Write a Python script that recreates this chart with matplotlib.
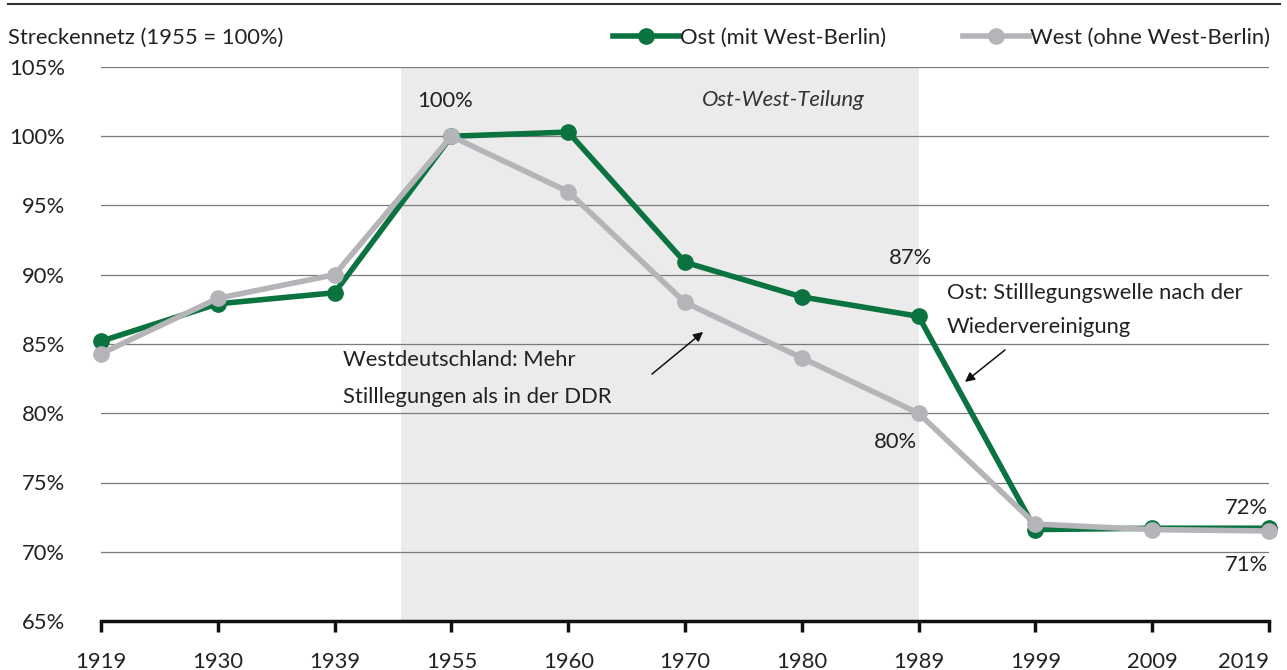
import matplotlib
matplotlib.use('Agg')
import matplotlib.pyplot as plt
from matplotlib.lines import Line2D

plt.rcParams['font.family'] = ['Lato', 'DejaVu Sans']
plt.rcParams['font.size'] = 15.8

years = ['1919', '1930', '1939', '1955', '1960', '1970', '1980', '1989', '1999', '2009', '2019']
ost = [85.2, 87.9, 88.7, 100.0, 100.3, 90.9, 88.4, 87.0, 71.6, 71.7, 71.7]
west = [84.3, 88.3, 90.0, 100.0, 96.0, 88.0, 84.0, 80.0, 72.0, 71.6, 71.5]
yticks = [65, 70, 75, 80, 85, 90, 95, 100, 105]

GREEN = '#0b7340'
GRAY = '#b5b5b9'
SHADE = '#ebebeb'
TEXT = '#222222'

fig = plt.figure(figsize=(12.87, 6.70), dpi=100)
ax = fig.add_axes([101 / 1287, 49 / 670, 1168 / 1287, 554 / 670])
x = list(range(len(years)))

# Teilungsphase
ax.axvspan(2.57, 7, color=SHADE, zorder=0, lw=0)
ax.text(5.84, 102.6, 'Ost-West-Teilung', style='italic', ha='center', va='center',
        color='#333333')

for v in yticks[1:]:
    ax.axhline(v, color='#7a7a7a', lw=0.9, zorder=1)

ax.plot(x, ost, '-o', color=GREEN, lw=4, ms=11, zorder=2, clip_on=False)
ax.plot(x, west, '-o', color=GRAY, lw=4, ms=11, zorder=3, clip_on=False)

ax.set_xlim(0, 10)
ax.set_ylim(65, 105)
ax.set_xticks(x)
ax.set_xticklabels(years)
ax.get_xticklabels()[-1].set_ha('right')
ax.set_yticks(yticks)
ax.set_yticklabels([f'{v}%' for v in yticks])
for s in ['top', 'right', 'left']:
    ax.spines[s].set_visible(False)
ax.spines['bottom'].set_linewidth(2.5)
ax.spines['bottom'].set_color('#111111')
ax.tick_params(axis='x', length=8, width=2.5, color='#111111', pad=14, labelcolor=TEXT)
ax.tick_params(axis='y', length=0, pad=26, labelcolor=TEXT)

# Werte
ax.text(2.95, 102.55, '100%', ha='center', va='center', color=TEXT)
ax.text(6.93, 91.2, '87%', ha='center', va='center', color=TEXT)
ax.text(6.80, 77.9, '80%', ha='center', va='center', color=TEXT)
ax.text(9.81, 73.15, '72%', ha='center', va='center', color=TEXT)
ax.text(9.81, 69.05, '71%', ha='center', va='center', color=TEXT)

ax.text(2.072, 83.84, 'Westdeutschland: Mehr', ha='left', va='center', color=TEXT)
ax.text(2.072, 81.17, 'Stilllegungen als in der DDR', ha='left', va='center', color=TEXT)
ax.annotate('', xy=(5.155, 85.87), xytext=(4.717, 82.83),
            arrowprops=dict(arrowstyle='-|>', color='#111111', lw=1.1, mutation_scale=14,
                            shrinkA=0, shrinkB=0))
ax.text(7.243, 88.68, 'Ost: Stilllegungswelle nach der', ha='left', va='center', color=TEXT)
ax.text(7.243, 86.23, 'Wiedervereinigung', ha='left', va='center', color=TEXT)
ax.annotate('', xy=(7.397, 82.26), xytext=(7.74, 84.57),
            arrowprops=dict(arrowstyle='-|>', color='#111111', lw=1.1, mutation_scale=14,
                            shrinkA=0, shrinkB=0))

# Kopfzeile
fig.add_artist(Line2D([8 / 1287, 1280 / 1287], [1 - 4 / 670, 1 - 4 / 670],
                      color='#333333', lw=1.5))
fig.text(8 / 1287, 1 - 38 / 670, 'Streckennetz (1955 = 100%)', ha='left', va='center',
         color=TEXT)

handles = [Line2D([], [], color=GREEN, lw=4, marker='o', ms=11),
           Line2D([], [], color=GRAY, lw=4, marker='o', ms=11)]
fig.legend(handles, ['Ost (mit West-Berlin)', 'West (ohne West-Berlin)'],
           loc='center right', bbox_to_anchor=(1270 / 1287, 1 - 38 / 670), ncol=2,
           frameon=False, handlelength=3.0, handletextpad=0.05, columnspacing=3.5,
           borderpad=0, borderaxespad=0, labelcolor=TEXT)

fig.savefig('out.png', dpi=100, facecolor='white')
